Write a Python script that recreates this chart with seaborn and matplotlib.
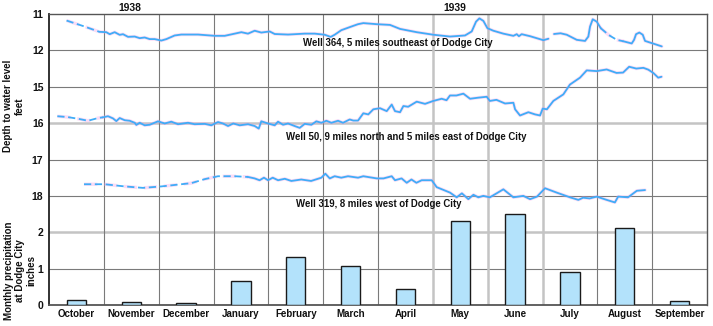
import matplotlib
matplotlib.use("Agg")
import matplotlib.pyplot as plt
import seaborn as sns
import pandas as pd

# ---------------- data ----------------
months = ["October", "November", "December", "January", "February", "March",
          "April", "May", "June", "July", "August", "September"]
precip_in = [0.14, 0.08, 0.05, 0.66, 1.31, 1.06, 0.44, 2.32, 2.51, 0.92, 2.12, 0.10]

depth_tick_labels = ["11", "12", "15", "16", "17", "18", "2", "1", "0"]
years = ["1938", "1939"]

# Well 364 (time in months since 1 Oct 1938, depth in feet)
w364_est1_t = [0.32, 0.62, 0.92]
w364_est1_d = [11.18, 11.33, 11.49]
w364_rec1_t = [0.92, 1.045, 1.107, 1.198, 1.289, 1.35, 1.441, 1.563, 1.654, 1.745, 1.836, 1.927,
               2.049, 2.141, 2.292, 2.414, 2.718, 3.022, 3.204, 3.387, 3.508, 3.629, 3.751, 3.872,
               4.025, 4.116, 4.359, 4.663, 4.846, 5.028, 5.137, 5.21, 5.331, 5.514, 5.636, 5.732,
               5.977, 6.219, 6.402, 6.706, 7.009, 7.313, 7.587, 7.709, 7.788, 7.849, 7.922, 7.995,
               8.104, 8.286, 8.469, 8.53, 8.57, 8.62, 8.773, 9.016, 9.107]
w364_rec1_d = [11.49, 11.50, 11.555, 11.50, 11.573, 11.555, 11.628, 11.62, 11.664, 11.646, 11.69, 11.69,
               11.73, 11.69, 11.59, 11.565, 11.565, 11.60, 11.60, 11.54, 11.50, 11.54, 11.46, 11.51,
               11.48, 11.55, 11.565, 11.54, 11.54, 11.57, 11.63, 11.57, 11.445, 11.345, 11.28, 11.25,
               11.28, 11.30, 11.41, 11.50, 11.57, 11.62, 11.59, 11.48, 11.21, 11.12, 11.19, 11.39,
               11.46, 11.54, 11.60, 11.555, 11.61, 11.555, 11.61, 11.72, 11.68]
w364_rec2_t = [9.21, 9.33, 9.442, 9.624, 9.776, 9.836, 9.867, 9.916, 9.989, 10.062]
w364_rec2_d = [11.55, 11.53, 11.57, 11.71, 11.74, 11.62, 11.345, 11.145, 11.21, 11.39]
w364_est2_t = [10.062, 10.21, 10.354, 10.475]
w364_est2_d = [11.39, 11.58, 11.71, 11.75]
w364_rec3_t = [10.475, 10.627, 10.67, 10.706, 10.766, 10.828, 10.87, 10.992, 11.175]
w364_rec3_d = [11.75, 11.81, 11.71, 11.555, 11.51, 11.57, 11.74, 11.80, 11.89]

# Well 50
w50_est_t = [0.152, 0.347, 0.529, 0.711, 0.894, 0.985]
w50_est_d = [15.81, 15.835, 15.88, 15.935, 15.86, 15.84]
w50_rec_t = [0.985, 1.076, 1.167, 1.228, 1.289, 1.38, 1.471, 1.563, 1.593, 1.654, 1.745, 1.836,
             1.988, 2.11, 2.23, 2.353, 2.535, 2.657, 2.84, 2.96, 3.082, 3.173, 3.265, 3.36,
             3.478, 3.63, 3.752, 3.825, 3.872, 3.994, 4.116, 4.177, 4.268, 4.359, 4.481, 4.572,
             4.664, 4.785, 4.876, 4.967, 5.058, 5.15, 5.271, 5.362, 5.484, 5.55, 5.636, 5.732,
             5.823, 5.915, 6.037, 6.159, 6.25, 6.31, 6.402, 6.463, 6.55, 6.706, 6.858, 7.009,
             7.161, 7.25, 7.313, 7.43, 7.557, 7.679, 7.83, 7.983, 8.04, 8.16, 8.317, 8.469,
             8.5, 8.59, 8.742, 8.864, 8.955, 9.004, 9.08, 9.198, 9.38, 9.5, 9.684, 9.806,
             9.988, 10.17, 10.35, 10.47, 10.58, 10.71, 10.84, 10.93, 11.02, 11.11, 11.17]
w50_rec_d = [15.84, 15.81, 15.87, 15.945, 15.86, 15.92, 15.935, 15.99, 16.05, 15.99, 16.06, 16.045,
             15.95, 16.01, 15.96, 16.03, 15.99, 16.03, 16.02, 16.06, 15.97, 16.01, 16.08, 16.01,
             16.06, 16.03, 16.08, 16.15, 15.95, 16.01, 16.06, 15.96, 16.045, 16.01, 16.08, 16.13,
             16.02, 16.045, 15.95, 15.99, 15.935, 15.99, 15.935, 15.99, 15.90, 15.93, 15.93, 15.73,
             15.76, 15.62, 15.59, 15.67, 15.49, 15.67, 15.70, 15.53, 15.55, 15.41, 15.47, 15.39,
             15.33, 15.37, 15.24, 15.24, 15.19, 15.33, 15.30, 15.275, 15.39, 15.36, 15.46, 15.44,
             15.62, 15.79, 15.70, 15.76, 15.79, 15.60, 15.62, 15.39, 15.21, 14.94, 14.75, 14.55,
             14.57, 14.525, 14.62, 14.61, 14.45, 14.50, 14.48, 14.53, 14.62, 14.75, 14.725]

# Well 319
w319_est_t = [0.638, 1.015, 1.38, 1.714, 2.05, 2.595, 2.84, 3.082, 3.387, 3.63]
w319_est_d = [17.68, 17.68, 17.74, 17.78, 17.74, 17.65, 17.54, 17.46, 17.46, 17.48]
w319_rec_t = [3.63, 3.75, 3.84, 3.92, 3.994, 4.08, 4.177, 4.30, 4.42, 4.60, 4.78, 4.967,
              5.04, 5.12, 5.21, 5.33, 5.453, 5.636, 5.732, 5.977, 6.10, 6.25, 6.31, 6.43,
              6.524, 6.61, 6.70, 6.797, 6.98, 7.07, 7.313, 7.435, 7.53, 7.647, 7.74, 7.83,
              7.92, 8.04, 8.286, 8.469, 8.65, 8.773, 8.90, 9.046, 9.259, 9.502, 9.654, 9.74,
              9.86, 9.989, 10.17, 10.32, 10.38, 10.56, 10.72, 10.87]
w319_rec_d = [17.48, 17.52, 17.57, 17.50, 17.57, 17.50, 17.57, 17.53, 17.59, 17.55, 17.59, 17.50,
              17.39, 17.52, 17.46, 17.50, 17.46, 17.50, 17.46, 17.52, 17.52, 17.46, 17.57, 17.52,
              17.64, 17.55, 17.64, 17.57, 17.57, 17.76, 17.91, 18.04, 17.93, 18.09, 17.97, 18.04,
              18.00, 18.04, 17.82, 18.04, 18.00, 18.09, 18.02, 17.79, 17.91, 18.04, 18.11, 18.05,
              18.07, 18.02, 18.11, 18.18, 18.02, 18.04, 17.86, 17.84]

well_labels = ["Well 364, 5 miles southeast of Dodge City",
               "Well 50, 9 miles north and 5 miles east of Dodge City",
               "Well 319, 8 miles west of Dodge City"]


def segments_df(segs):
    rows = []
    for i, (t, d, kind) in enumerate(segs):
        for a, b in zip(t, d):
            rows.append({"t": a, "depth": b, "seg": i, "kind": kind})
    return pd.DataFrame(rows)


df364 = segments_df([(w364_est1_t, w364_est1_d, "estimated"),
                     (w364_rec1_t, w364_rec1_d, "measured"),
                     (w364_rec2_t, w364_rec2_d, "measured"),
                     (w364_est2_t, w364_est2_d, "estimated"),
                     (w364_rec3_t, w364_rec3_d, "measured")])
df50 = segments_df([(w50_est_t, w50_est_d, "estimated"),
                    (w50_rec_t, w50_rec_d, "measured")])
df319 = segments_df([(w319_est_t, w319_est_d, "estimated"),
                     (w319_rec_t, w319_rec_d, "measured")])
dfp = pd.DataFrame({"month": months, "precip": precip_in})

# ---------------- style ----------------
sns.set_style("white")
plt.rcParams["font.family"] = ["Liberation Sans", "DejaVu Sans"]
FS = 6.9
WT = "bold"
TXT = "#111111"

fig = plt.figure(figsize=(7.13, 3.26), dpi=100)
L, R = 49 / 713, 707 / 713
T, B = 1 - 14 / 326, 1 - 305 / 326
H = T - B
row = H / 8

ax0 = fig.add_axes([L, B, R - L, H])
ax364 = fig.add_axes([L, T - 2 * row, R - L, 2 * row])
axw = fig.add_axes([L, T - 6 * row, R - L, 5 * row])
axp = fig.add_axes([L, B, R - L, 3 * row])

# background frame and grid
ax0.set_xlim(0, 12)
ax0.set_ylim(8, 0)
ax0.set_yticks(range(9))
ax0.set_yticklabels(depth_tick_labels, fontsize=FS + 0.6, color=TXT, fontweight=WT)
ax0.set_xticks([m + 0.5 for m in range(12)])
ax0.set_xticklabels(months, fontsize=FS + 0.1, color=TXT, fontweight=WT)
ax0.tick_params(axis="both", length=0)
ax0.tick_params(axis="y", pad=4)
ax0.tick_params(axis="x", pad=3)
DARK, LIGHT = "#7a7a7a", "#c4c4c4"
for yv in range(1, 8):
    light = yv in (3, 6)
    ax0.axhline(yv, color=LIGHT if light else DARK, lw=1.8 if light else 0.8, zorder=0)
for xv in range(1, 12):
    light = xv in (7, 8, 9)
    ax0.axvline(xv, color=LIGHT if light else DARK, lw=1.8 if light else 0.8, zorder=0)
for side, sp in ax0.spines.items():
    sp.set_visible(True)
    sp.set_color("#222222" if side == "left" else "#555555")
    sp.set_linewidth(1.3 if side in ("left", "bottom") else 1.0)

for a in (ax364, axw, axp):
    a.set_facecolor("none")
    for sp in a.spines.values():
        sp.set_visible(False)

BLUE = "#40acf7"
PINK = "#f29be8"
dash_map = {"measured": "", "estimated": (4, 2)}


def draw_well(ax, df):
    sns.lineplot(data=df, x="t", y="depth", units="seg", style="kind", dashes=dash_map,
                 estimator=None, sort=False, color=PINK, lw=2.4, alpha=0.35,
                 legend=False, ax=ax)
    sns.lineplot(data=df, x="t", y="depth", units="seg", style="kind", dashes=dash_map,
                 estimator=None, sort=False, color=BLUE, lw=1.3,
                 legend=False, ax=ax)


draw_well(ax364, df364)
draw_well(axw, df50)
draw_well(axw, df319)
ax364.set_xlim(0, 12)
ax364.set_ylim(13, 11)
axw.set_xlim(0, 12)
axw.set_ylim(19, 14)

ax364.text(4.63, 11.80, well_labels[0], fontsize=FS, color=TXT, va="center", ha="left", fontweight=WT)
axw.text(4.32, 16.38, well_labels[1], fontsize=FS, color=TXT, va="center", ha="left", fontweight=WT)
axw.text(4.50, 18.21, well_labels[2], fontsize=FS, color=TXT, va="center", ha="left", fontweight=WT)

# precipitation bars
sns.barplot(data=dfp, x="month", y="precip", order=months, color="#b3e2fb",
            saturation=1, width=0.35, edgecolor="#1a1a1a", linewidth=1.0, ax=axp)
axp.set_xlim(-0.5, 11.5)
axp.set_ylim(0, 3)

for a in (ax364, axw, axp):
    a.set_xlabel("")
    a.set_ylabel("")
    a.set_xticks([])
    a.set_yticks([])

# year labels
fig.text(130 / 713, 1 - 8 / 326, years[0], fontsize=FS + 0.5, color=TXT, ha="center", va="center",
         fontweight=WT)
fig.text(455 / 713, 1 - 8 / 326, years[1], fontsize=FS + 0.5, color=TXT, ha="center", va="center",
         fontweight=WT)

# axis titles
fig.text(14 / 713, 1 - 106 / 326, "Depth to water level\nfeet", rotation=90, fontsize=FS + 0.1,
         color=TXT, ha="center", va="center", multialignment="center", linespacing=1.15,
         fontweight=WT)
fig.text(20 / 713, 1 - 271 / 326, "Monthly precipitation\nat Dodge City\ninches", rotation=90,
         fontsize=FS + 0.1, color=TXT, ha="center", va="center", multialignment="center",
         linespacing=1.15, fontweight=WT)

fig.savefig("out.png", dpi=100)
